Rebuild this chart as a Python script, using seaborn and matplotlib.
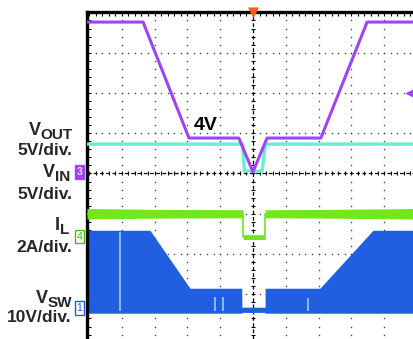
import numpy as np
import matplotlib
matplotlib.use('Agg')
import seaborn as sns
from matplotlib import pyplot as plt

# scope traces, time and amplitude in screen divisions (0 = trigger / centre)
vin_t = [-5.06, -3.35, -1.95, -0.43, 0.0, 0.43, 2.07, 3.48, 4.91]
vin_div = [3.76, 3.76, 0.88, 0.88, 0.04, 0.88, 0.88, 3.76, 3.76]

vout_t = [-5.06, -0.32, -0.26, 0.28, 0.38, 4.91]
vout_div = [0.73, 0.73, 0.06, 0.06, 0.73, 0.73]

il_t = [-5.06, -3.0, -0.30, -0.30, 0.37, 0.37, 2.5, 4.91]
il_div = [-1.0, -1.0, -1.0, -1.58, -1.58, -1.0, -1.0, -1.0]
il_spread = [0.13, 0.11, 0.10, 0.06, 0.06, 0.10, 0.11, 0.13]

sw_t = [-5.06, -3.14, -1.92, -0.34, -0.34, 0.37, 0.37, 2.04, 3.66, 4.91]
sw_high = [-1.41, -1.41, -2.85, -2.85, -3.32, -3.32, -2.85, -2.85, -1.41, -1.41]
sw_low = [-3.47, -3.47, -3.47, -3.47, -3.45, -3.45, -3.47, -3.47, -3.47, -3.47]
sw_glitch_t = [-4.05, -1.16, -0.91, 1.68]
sw_glitch_top = [-1.45, -3.06, -3.06, -3.09]

ch_names = ['V', 'V', 'I', 'V']
ch_subs = ['OUT', 'IN', 'L', 'SW']
ch_scales = ['5V/div.', '5V/div.', '2A/div.', '10V/div.']

PURPLE = '#a043f2'
CYAN = '#62f0d2'
GREEN = '#72e81c'
BLUE = '#1f5fe0'

sns.set_theme(style='white')
plt.rcParams['font.family'] = ['Liberation Sans', 'DejaVu Sans']

W, H = 414, 339
fig = plt.figure(figsize=(W / 100, H / 100), dpi=100)
ax = fig.add_axes([87 / W, 0, (W - 87) / W, (H - 12) / H])
ax.set_xlim(-5.06, 4.91)
ax.set_ylim(-4.11, 4.01)

# graticule: dotted lines made of dots at every fifth of a division
sub = np.round(np.arange(-5, 5.01, 0.2), 2)
for k in range(-4, 5):
    if k == 0:
        continue
    ax.scatter(np.full(len(sub), k), sub, s=1.2, color='#444444', lw=0, zorder=1)
for k in range(-3, 4):
    if k == 0:
        continue
    ax.scatter(sub, np.full(len(sub), k), s=1.2, color='#444444', lw=0, zorder=1)
ax.axvline(0, color='black', lw=0.9, ls=(0, (3, 2)), zorder=1)
ax.axhline(0, color='black', lw=0.9, ls=(0, (3, 2)), zorder=1)
ax.scatter(np.zeros(len(sub)), sub, marker='_', s=12, color='black', lw=0.8, zorder=1)
ax.scatter(sub, np.zeros(len(sub)), marker='|', s=12, color='black', lw=0.8, zorder=1)

# switch node: filled band
ax.fill_between(sw_t, sw_low, sw_high, color=BLUE, lw=0, zorder=2)
ax.vlines(sw_glitch_t, -3.42, sw_glitch_top, color='#a9c2f5', lw=1.2, zorder=3)

# inductor current band
ax.fill_between(il_t, np.array(il_div) - np.array(il_spread),
                np.array(il_div) + np.array(il_spread), color=GREEN, lw=0, zorder=3)
sns.lineplot(x=il_t, y=il_div, sort=False, estimator=None, color=GREEN, lw=1.2, ax=ax, zorder=3)

sns.lineplot(x=vout_t, y=vout_div, sort=False, estimator=None, color=CYAN, lw=2.4, ax=ax, zorder=4)
sns.lineplot(x=vin_t, y=vin_div, sort=False, estimator=None, color=PURPLE, lw=2.2, ax=ax, zorder=5)

# trigger markers
ax.scatter([0], [4.0], marker='v', s=40, color='#ff5a1a', zorder=6, clip_on=False)
ax.scatter([4.85], [2.0], marker='<', s=70, color=PURPLE, zorder=6, clip_on=False)

ax.text(-1.8, 1.07, '4V', fontsize=14, fontweight='bold', color='black', zorder=6)

ax.set_xticks(sub[:-1])
ax.set_yticks(sub[5:-5])
ax.xaxis.tick_top()
ax.tick_params(direction='in', length=3, width=0.8, color='black',
               labelleft=False, labeltop=False, left=True, top=True)
ax.set_xlabel('')
ax.set_ylabel('')
for side in ['right', 'bottom']:
    ax.spines[side].set_visible(False)
for side in ['left', 'top']:
    ax.spines[side].set_color('black')
    ax.spines[side].set_linewidth(2.4)
ax.grid(False)

# channel labels on the left
fx = lambda px: px / W
fy = lambda py: 1 - py / H
renderer = fig.canvas.get_renderer()
name_base = [135, 177, 230, 303]
name_right = [73, 70, 69, 72]
scale_base = [155, 199, 252, 322]
for name, subs, scale, nb, nr, sb in zip(ch_names, ch_subs, ch_scales, name_base, name_right, scale_base):
    t = fig.text(fx(nr), fy(nb + 4), subs, fontsize=11, fontweight='bold', ha='right', va='baseline')
    x0 = t.get_window_extent(renderer).x0
    fig.text(x0 / W, fy(nb), name, fontsize=13, fontweight='bold', ha='right', va='baseline')
    fig.text(fx(72), fy(sb), scale, fontsize=12.5, fontweight='bold', ha='right', va='baseline')

# ground reference flags
fig.text(fx(79.5), fy(172), '3', fontsize=7.5, color='#e8dcff', ha='center', va='center',
         fontweight='bold', bbox=dict(boxstyle='square,pad=0.15', fc=PURPLE, ec=PURPLE))
fig.text(fx(79.5), fy(236.5), '4', fontsize=7.5, color='#3fbf10', ha='center', va='center',
         bbox=dict(boxstyle='square,pad=0.15', fc='white', ec='#3fbf10', lw=1))
fig.text(fx(79.5), fy(308), '1', fontsize=7.5, color=BLUE, ha='center', va='center',
         bbox=dict(boxstyle='square,pad=0.15', fc='white', ec=BLUE, lw=1))

fig.savefig('out.png', dpi=100)
